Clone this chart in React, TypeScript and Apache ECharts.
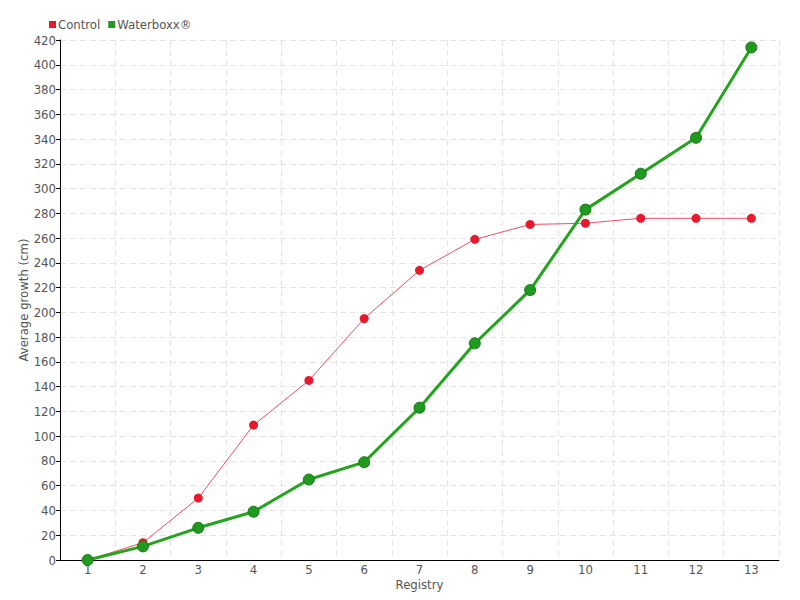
import React, { useEffect, useRef } from "react";
import * as echarts from "echarts";

const categories = ["1", "2", "3", "4", "5", "6", "7", "8", "9", "10", "11", "12", "13"];
const controlValues = [0, 14, 50, 109, 145, 195, 234, 259, 271, 272, 276, 276, 276];
const waterboxxValues = [0, 11, 26, 39, 65, 79, 123, 175, 218, 283, 312, 341, 414];
const seriesNames = ["Control", "Waterboxx®"];

const FONT = "'Liberation Sans Narrow', 'DejaVu Sans Condensed', 'Roboto', sans-serif";

export default function App() {
  const ref = useRef<HTMLDivElement>(null);
  useEffect(() => {
    if (!ref.current) return;
    const chart = echarts.init(ref.current, undefined, { renderer: "svg" });
    chart.setOption({
      animation: false,
      backgroundColor: "#ffffff",
      textStyle: { fontFamily: FONT },
      legend: {
        left: 44,
        top: 13,
        itemWidth: 7,
        itemHeight: 7,
        itemGap: 8,
        icon: "rect",
        itemStyle: { borderWidth: 0 },
        textStyle: { fontFamily: FONT, fontSize: 13, color: "#555", padding: [0, 0, 0, -3] },
        data: seriesNames,
      },
      grid: { left: 60, right: 21, top: 40, bottom: 40 },
      xAxis: {
        type: "category",
        data: categories,
        boundaryGap: true,
        name: "Registry",
        nameLocation: "middle",
        nameGap: 18,
        nameMoveOverlap: false,
        nameTextStyle: { fontFamily: FONT, fontSize: 13, color: "#555" },
        axisLine: { lineStyle: { color: "#000", width: 1 } },
        axisTick: { alignWithLabel: true, length: 4, lineStyle: { color: "#000" } },
        axisLabel: { fontFamily: FONT, fontSize: 13, color: "#555", margin: 3 },
        splitLine: { show: true, lineStyle: { color: "#e4e4e4", type: [6, 4] } },
      },
      yAxis: {
        type: "value",
        min: 0,
        max: 420,
        interval: 20,
        name: "Average growth (cm)",
        nameLocation: "middle",
        nameGap: 30,
        nameMoveOverlap: false,
        nameTextStyle: { fontFamily: FONT, fontSize: 13, color: "#555" },
        axisLine: { show: true, lineStyle: { color: "#000", width: 1 } },
        axisTick: { show: true, length: 4, lineStyle: { color: "#000" } },
        axisLabel: { fontFamily: FONT, fontSize: 13, color: "#555", margin: 4 },
        splitLine: { show: true, lineStyle: { color: "#e4e4e4", type: [6, 4] } },
      },
      series: [
        {
          name: seriesNames[0],
          type: "line",
          data: controlValues,
          symbol: "circle",
          symbolSize: 9,
          itemStyle: { color: "#e8192c" },
          lineStyle: { color: "#f0505e", width: 1 },
          z: 2,
        },
        {
          name: seriesNames[1],
          type: "line",
          data: waterboxxValues,
          symbol: "circle",
          symbolSize: 11,
          itemStyle: { color: "#1f9a1f", borderColor: "#187a18", borderWidth: 1 },
          lineStyle: { color: "#22a51c", width: 3 },
          z: 3,
        },
      ],
    });
    return () => chart.dispose();
  }, []);
  return <div ref={ref} style={{ width: 800, height: 600, position: "absolute", left: 0, top: 0 }} />;
}
